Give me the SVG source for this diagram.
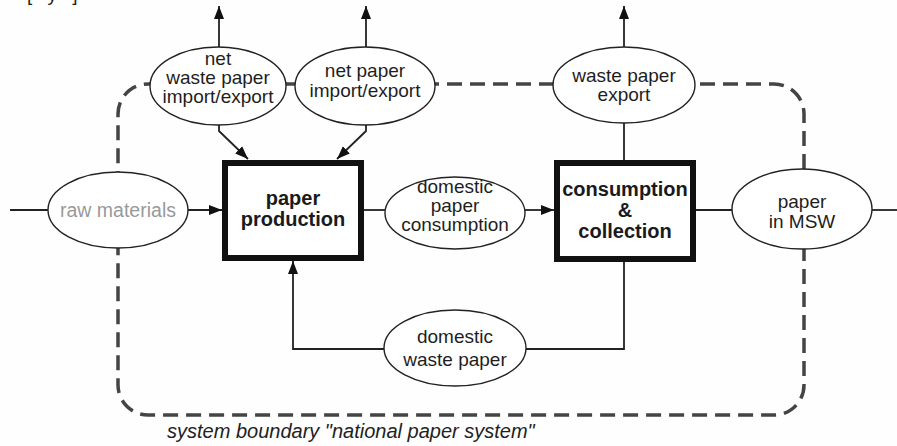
<svg xmlns="http://www.w3.org/2000/svg" width="897" height="446" viewBox="0 0 897 446">
<style>
  .bg{fill:#fefefe}
  .t{font-family:"Liberation Sans",Arial,Helvetica,sans-serif;font-size:19px;fill:#1e1e1e;text-anchor:middle}
  .b{font-family:"Liberation Sans",Arial,Helvetica,sans-serif;font-size:20px;font-weight:bold;fill:#1a1a1a;text-anchor:middle}
  .gray{fill:#999999}
  .ell{fill:#ffffff;stroke:#222222;stroke-width:1.4}
  .box{fill:#ffffff;stroke:#111111;stroke-width:6}
  .ln{fill:none;stroke:#222222;stroke-width:1.8}
  .arr{marker-end:url(#ah)}
  .bound{fill:none;stroke:#444444;stroke-width:3.5;stroke-dasharray:15 8}
  .cap{font-family:"Liberation Sans",Arial,Helvetica,sans-serif;font-size:20px;font-style:italic;fill:#222222}
</style>
<defs>
  <marker id="ah" markerUnits="userSpaceOnUse" markerWidth="14" markerHeight="14" viewBox="0 0 14 14" refX="13" refY="7" orient="auto">
    <path d="M0,2 L13,7 L0,12 Z" fill="#111111"/>
  </marker>
</defs>
<rect class="bg" x="0" y="0" width="897" height="446"/>
<text class="t" x="27" y="1" style="text-anchor:start" word-spacing="10">[ y ]</text>

<g id="boundary">
  <rect class="bound" x="118" y="84" width="686" height="331" rx="30" ry="30"/>
  <text class="cap" x="167" y="438">system boundary "national paper system"</text>
</g>

<g id="connectors">
  <line class="ln arr" x1="219" y1="47" x2="219" y2="6"/>
  <line class="ln arr" x1="366" y1="47" x2="366" y2="6"/>
  <line class="ln arr" x1="624" y1="47" x2="624" y2="6"/>
  <polyline class="ln arr" points="219,124 219,131 248,159"/>
  <polyline class="ln arr" points="366,124 366,131 337,159"/>
  <line class="ln" x1="10" y1="210" x2="48" y2="210"/>
  <line class="ln arr" x1="188" y1="210" x2="222" y2="210"/>
  <line class="ln" x1="364" y1="210" x2="385" y2="210"/>
  <line class="ln arr" x1="525" y1="210" x2="554" y2="210"/>
  <line class="ln" x1="624" y1="123" x2="624" y2="160"/>
  <line class="ln" x1="696" y1="210" x2="732" y2="210"/>
  <line class="ln" x1="872" y1="210" x2="897" y2="210"/>
  <polyline class="ln arr" points="384,349 293,349 293,261"/>
  <polyline class="ln" points="526,349 624,349 624,261"/>
</g>

<g id="net-waste-paper-import-export">
  <ellipse class="ell" cx="218" cy="86" rx="68" ry="39"/>
  <text class="t" x="218" y="65">net</text>
  <text class="t" x="218" y="84">waste paper</text>
  <text class="t" x="218" y="103">import/export</text>
</g>
<g id="net-paper-import-export">
  <ellipse class="ell" cx="365" cy="86" rx="70" ry="39"/>
  <text class="t" x="365" y="77">net paper</text>
  <text class="t" x="365" y="97">import/export</text>
</g>
<g id="waste-paper-export">
  <ellipse class="ell" cx="624" cy="85" rx="71" ry="38"/>
  <text class="t" x="624" y="82">waste paper</text>
  <text class="t" x="624" y="101">export</text>
</g>
<g id="raw-materials">
  <ellipse class="ell" cx="118" cy="210" rx="70" ry="38"/>
  <text class="t gray" x="118" y="217" style="font-size:19.5px">raw materials</text>
</g>
<g id="paper-production">
  <rect class="box" x="225" y="163" width="136" height="95"/>
  <text class="b" x="293" y="205">paper</text>
  <text class="b" x="293" y="226">production</text>
</g>
<g id="domestic-paper-consumption">
  <ellipse class="ell" cx="455" cy="213" rx="70" ry="36"/>
  <text class="t" x="455" y="193">domestic</text>
  <text class="t" x="455" y="212">paper</text>
  <text class="t" x="455" y="231">consumption</text>
</g>
<g id="consumption-collection">
  <rect class="box" x="557" y="163" width="136" height="96"/>
  <text class="b" x="625" y="196">consumption</text>
  <text class="b" x="625" y="217">&amp;</text>
  <text class="b" x="625" y="238">collection</text>
</g>
<g id="paper-in-msw">
  <ellipse class="ell" cx="802" cy="209" rx="70" ry="40"/>
  <text class="t" x="802" y="208">paper</text>
  <text class="t" x="802" y="228">in MSW</text>
</g>
<g id="domestic-waste-paper">
  <ellipse class="ell" cx="455" cy="348" rx="71" ry="38"/>
  <text class="t" x="455" y="343">domestic</text>
  <text class="t" x="455" y="366">waste paper</text>
</g>
</svg>
